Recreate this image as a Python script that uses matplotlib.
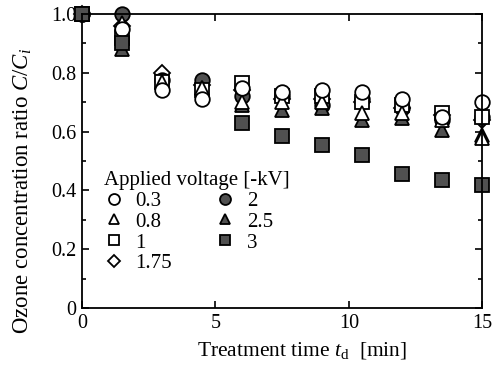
import matplotlib
matplotlib.use('Agg')
import matplotlib.pyplot as plt
import matplotlib.lines as mlines
from matplotlib.ticker import MultipleLocator

plt.rcParams['font.family'] = ['Liberation Serif', 'DejaVu Serif']
plt.rcParams['mathtext.fontset'] = 'custom'
plt.rcParams['mathtext.rm'] = 'Liberation Serif'
plt.rcParams['mathtext.it'] = 'Liberation Serif:italic'

nan = float('nan')

# treatment time [min]
t = [0, 1.5, 3, 4.5, 6, 7.5, 9, 10.5, 12, 13.5, 15]

# C/Ci for each applied voltage [-kV]
v03 = [1.0, 0.95, 0.74, 0.71, 0.75, 0.735, 0.74, 0.735, 0.71, 0.65, 0.70]
v08 = [1.0, 0.97, 0.77, 0.75, 0.70, 0.70, 0.70, 0.665, 0.665, 0.64, 0.58]
v1 = [1.0, 0.92, 0.77, 0.74, 0.765, 0.72, 0.72, 0.70, 0.69, 0.665, 0.65]
v175 = [1.0, 0.96, 0.80, 0.76, 0.74, 0.71, 0.71, 0.70, 0.68, 0.655, 0.64]
v2 = [1.0, 1.0, 0.775, 0.775, 0.72, 0.72, 0.69, 0.71, 0.68, 0.64, 0.65]
v25 = [1.0, 0.88, 0.77, 0.75, 0.69, 0.675, 0.68, 0.64, 0.645, 0.605, 0.59]
v3 = [1.0, 0.90, nan, nan, 0.63, 0.585, 0.555, 0.52, 0.455, 0.435, 0.42]

labels = ['0.3', '0.8', '1', '1.75', '2', '2.5', '3']
series = [v03, v08, v1, v175, v2, v25, v3]
markers = ['o', '^', 's', 'D', 'o', '^', 's']
filled = [False, False, False, False, True, True, True]

fig = plt.figure(figsize=(4.95, 3.69), dpi=100)
ax = fig.add_axes([0.166, 0.165, 0.808, 0.797])

# drawing order decides which markers end up on top
order = [3, 4, 5, 2, 1, 0, 6]
hd = {}
for i in order:
    ms = 8.5 if markers[i] == 'D' else 10.5
    face = '#505050' if filled[i] else 'white'
    h, = ax.plot(t, series[i], linestyle='none', marker=markers[i], markersize=ms,
                 markerfacecolor=face, markeredgecolor='black', markeredgewidth=1.3,
                 clip_on=False, label=labels[i])
    hd[i] = h

ax.set_xlim(0, 15)
ax.set_ylim(0, 1.0)
ax.xaxis.set_major_locator(MultipleLocator(5))
ax.yaxis.set_minor_locator(MultipleLocator(0.1))
ax.set_yticks([0, 0.2, 0.4, 0.6, 0.8, 1.0])
ax.set_yticklabels(['0', '0.2', '0.4', '0.6', '0.8', '1.0'])
ax.tick_params(which='both', direction='in', top=True, right=True, labelsize=14.5, width=1.2)
ax.tick_params(which='major', length=5, pad=4)
ax.tick_params(which='minor', length=3)
for s in ax.spines.values():
    s.set_linewidth(1.3)

ax.set_xlabel('Treatment time $t_{\\rm d}$  [min]', fontsize=15.5)
ax.set_ylabel('Ozone concentration ratio $C/C_i$', fontsize=16.5)
ax.xaxis.set_label_coords(0.55, -0.11)
ax.yaxis.set_label_coords(-0.12, 0.40)

blank = mlines.Line2D([], [], linestyle='none')
leg = ax.legend([hd[i] for i in range(7)] + [blank], labels + [''],
                ncol=2, loc='upper left', bbox_to_anchor=(0.045, 0.48),
                frameon=False, fontsize=15, title='Applied voltage [-kV]',
                title_fontsize=15, handlelength=0.9, handletextpad=0.6,
                labelspacing=0.06, columnspacing=2.1, borderpad=0.2,
                borderaxespad=0, markerscale=0.75)
leg._legend_box.align = 'left'

fig.savefig('out.png', dpi=100)
